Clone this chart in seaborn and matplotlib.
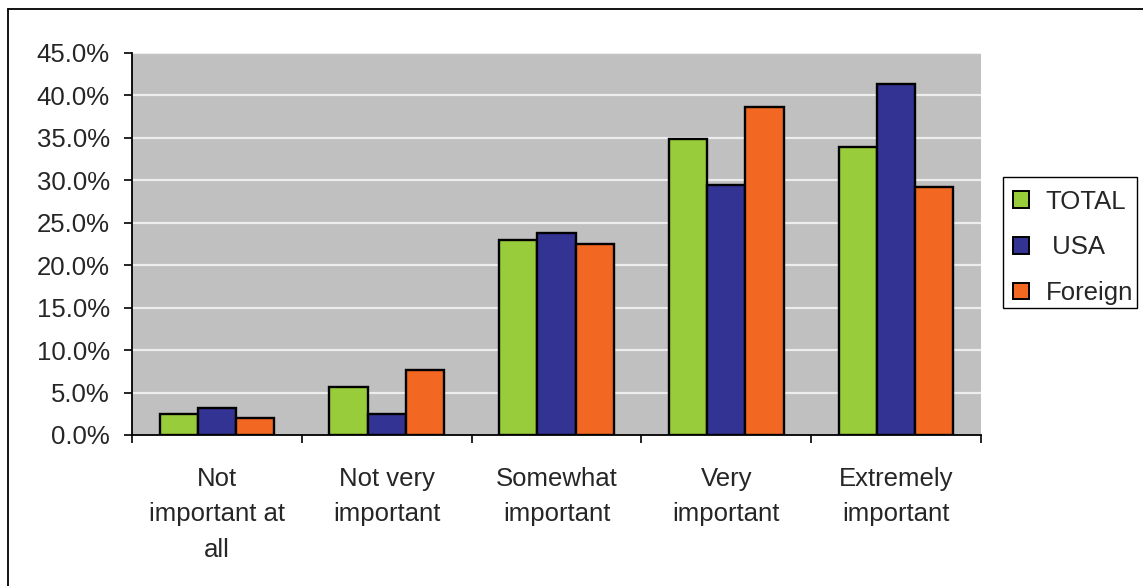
import matplotlib
matplotlib.use("Agg")
import matplotlib.pyplot as plt
from matplotlib.lines import Line2D
from matplotlib.patches import Patch, Rectangle
from matplotlib.ticker import FuncFormatter
import seaborn as sns
import pandas as pd

# Survey responses: share of respondents per importance rating
categories = ["Not\nimportant at\nall", "Not very\nimportant", "Somewhat\nimportant",
              "Very\nimportant", "Extremely\nimportant"]
series = ["TOTAL", "USA", "Foreign"]
total = [2.5, 5.7, 23.0, 34.9, 33.9]
usa = [3.2, 2.5, 23.8, 29.5, 41.4]
foreign = [2.0, 7.7, 22.5, 38.6, 29.2]
y_ticks = [0, 5, 10, 15, 20, 25, 30, 35, 40, 45]

colors = ["#99CC3A", "#333394", "#F26822"]

rows = []
for name, vals in zip(series, [total, usa, foreign]):
    for cat, v in zip(categories, vals):
        rows.append({"category": cat, "series": name, "value": v})
df = pd.DataFrame(rows)

sns.set_theme(style="white")
plt.rcParams["font.family"] = ["Liberation Sans", "DejaVu Sans"]

W, H = 1143, 586
fig = plt.figure(figsize=(W / 100, H / 100), dpi=100)
fig.patch.set_facecolor("white")
ax = fig.add_axes([132 / W, (H - 435) / H, (981 - 132) / W, (435 - 53) / H])
ax.set_facecolor("#C0C0C0")

sns.barplot(data=df, x="category", y="value", hue="series", order=categories,
            hue_order=series, palette=colors, width=0.675, gap=0,
            edgecolor="black", linewidth=1.7, saturation=1, ax=ax, legend=False,
            zorder=3)

ax.set_xlim(-0.5, len(categories) - 0.5)
ax.set_ylim(0, 45)
ax.set_yticks(y_ticks)
ax.yaxis.set_major_formatter(FuncFormatter(lambda v, _: f"{v:.1f}%"))
ax.grid(False)
for t in y_ticks[1:]:
    ax.axhline(t, color="#EDEDED", linewidth=1.6, zorder=1)

# category boundaries carry the tick marks, labels sit at the centres
ax.set_xticks([i - 0.5 for i in range(len(categories) + 1)])
ax.set_xticklabels([])
ax.set_xticks(range(len(categories)), minor=True)
ax.set_xticklabels(categories, minor=True, fontsize=18.5, linespacing=1.6)
ax.tick_params(axis="x", which="major", direction="out", length=6, width=1.2,
               color="black", bottom=True)
ax.tick_params(axis="x", which="minor", length=0, pad=23)
ax.tick_params(axis="y", direction="out", length=6, width=1.2, color="black",
               left=True, labelsize=18.5, pad=10)
ax.set_xlabel("")
ax.set_ylabel("")

for side in ["top", "right"]:
    ax.spines[side].set_visible(False)
for side in ["left", "bottom"]:
    ax.spines[side].set_color("black")
    ax.spines[side].set_linewidth(1.3)
    ax.spines[side].set_zorder(5)

# legend entries, with a separately drawn box that hugs the text on the right
handles = [Patch(facecolor=c, edgecolor="black", linewidth=1.4) for c in colors]
leg = fig.legend(handles, ["TOTAL", " USA", "Foreign"], loc="upper left",
                 bbox_to_anchor=(1003 / W, 1 - 180 / H), frameon=False,
                 fontsize=18.5, handlelength=0.62, handleheight=0.62,
                 handletextpad=0.65, labelspacing=0.84, borderpad=0.38,
                 borderaxespad=0)
fig.add_artist(Rectangle((1003 / W, 1 - 308 / H), (1137 - 1003) / W, (308 - 177) / H,
                         transform=fig.transFigure, fill=False, edgecolor="black",
                         linewidth=1.0))

# outer chart border
fig.add_artist(Line2D([8 / W, 1.0], [1 - 9 / H, 1 - 9 / H], color="black",
                      linewidth=1.3, transform=fig.transFigure))
fig.add_artist(Line2D([8 / W, 8 / W], [0.0, 1 - 9 / H], color="black",
                      linewidth=1.3, transform=fig.transFigure))

fig.savefig("out.png", dpi=100)
